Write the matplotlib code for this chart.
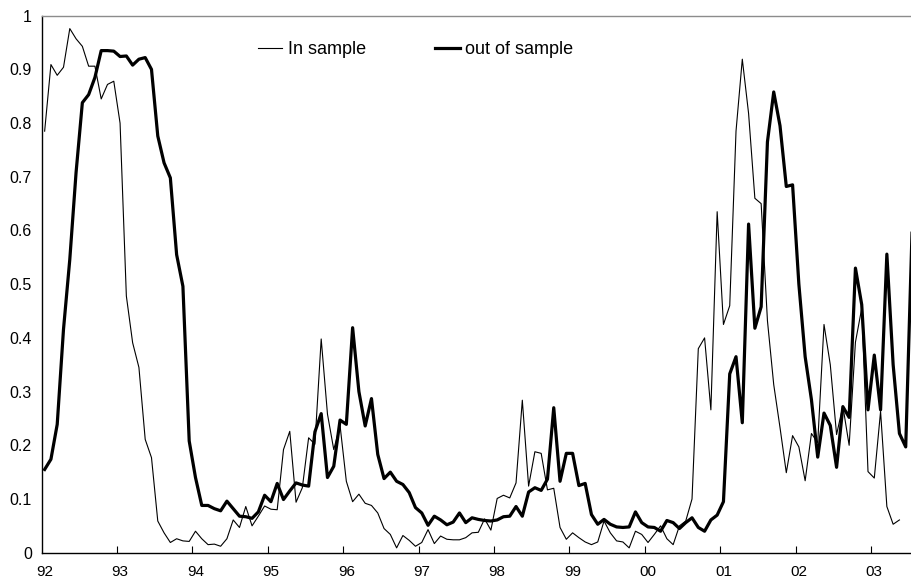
import numpy as np
import matplotlib
matplotlib.use("Agg")
import matplotlib.pyplot as plt

plt.rcParams['font.family'] = ['Liberation Sans', 'DejaVu Sans']

# 月度数据, 从 92 年 1 月开始
in_sample = [
    0.785, 0.909, 0.889, 0.904, 0.976, 0.957, 0.943, 0.906, 0.906, 0.845, 0.872, 0.878,
    0.800, 0.478, 0.391, 0.345, 0.211, 0.177, 0.059, 0.037, 0.019, 0.026, 0.022, 0.021,
    0.040, 0.026, 0.015, 0.016, 0.012, 0.026, 0.061, 0.047, 0.086, 0.050, 0.068, 0.087,
    0.081, 0.080, 0.192, 0.226, 0.094, 0.121, 0.214, 0.202, 0.398, 0.258, 0.192, 0.237,
    0.133, 0.095, 0.109, 0.092, 0.088, 0.074, 0.045, 0.034, 0.009, 0.032, 0.023, 0.012,
    0.019, 0.043, 0.017, 0.031, 0.025, 0.024, 0.024, 0.028, 0.037, 0.038, 0.063, 0.042,
    0.101, 0.107, 0.102, 0.130, 0.284, 0.124, 0.188, 0.185, 0.117, 0.120, 0.047, 0.025,
    0.037, 0.028, 0.020, 0.015, 0.020, 0.059, 0.037, 0.022, 0.020, 0.009, 0.040, 0.034,
    0.019, 0.034, 0.050, 0.026, 0.015, 0.050, 0.059, 0.100, 0.380, 0.400, 0.266, 0.635,
    0.425, 0.460, 0.785, 0.919, 0.818, 0.660, 0.650, 0.432, 0.313, 0.233, 0.149, 0.218,
    0.197, 0.134, 0.222, 0.205, 0.425, 0.350, 0.220, 0.273, 0.200, 0.392, 0.455, 0.151,
    0.139, 0.263, 0.086, 0.053, 0.061,
]

out_of_sample = [
    0.155, 0.174, 0.239, 0.416, 0.546, 0.708, 0.838, 0.853, 0.885, 0.935, 0.935, 0.934,
    0.924, 0.925, 0.908, 0.919, 0.922, 0.900, 0.776, 0.726, 0.698, 0.555, 0.496, 0.208,
    0.140, 0.088, 0.088, 0.082, 0.078, 0.096, 0.082, 0.068, 0.067, 0.064, 0.076, 0.107,
    0.095, 0.129, 0.099, 0.115, 0.130, 0.126, 0.124, 0.225, 0.259, 0.140, 0.161, 0.247,
    0.239, 0.419, 0.300, 0.236, 0.287, 0.183, 0.138, 0.150, 0.133, 0.127, 0.112, 0.084,
    0.074, 0.051, 0.068, 0.061, 0.052, 0.057, 0.074, 0.056, 0.065, 0.062, 0.060, 0.059,
    0.061, 0.067, 0.068, 0.086, 0.068, 0.113, 0.121, 0.116, 0.137, 0.270, 0.133, 0.185,
    0.185, 0.125, 0.129, 0.071, 0.053, 0.062, 0.053, 0.048, 0.047, 0.048, 0.076, 0.056,
    0.048, 0.047, 0.040, 0.060, 0.056, 0.045, 0.056, 0.065, 0.047, 0.040, 0.061, 0.070,
    0.095, 0.333, 0.365, 0.242, 0.612, 0.418, 0.458, 0.765, 0.858, 0.795, 0.682, 0.685,
    0.500, 0.365, 0.285, 0.178, 0.260, 0.237, 0.159, 0.272, 0.252, 0.530, 0.462, 0.266,
    0.368, 0.266, 0.556, 0.350, 0.222, 0.197, 0.595,
]

year_labels = ["92", "93", "94", "95", "96", "97", "98", "99", "00", "01", "02", "03"]
y_ticks = [0, 0.1, 0.2, 0.3, 0.4, 0.5, 0.6, 0.7, 0.8, 0.9, 1]

fig = plt.figure(figsize=(9.12, 5.81), dpi=100)
ax = fig.add_axes([41.5 / 912, 28.3 / 581, (912 - 41.5) / 912, 537 / 581])

ax.plot(np.arange(len(in_sample)), in_sample, color='black', linewidth=0.8, label="In sample")
ax.plot(np.arange(len(out_of_sample)), out_of_sample, color='black', linewidth=2.3, label="out of sample")

ax.set_xlim(-0.5, 138.0)
ax.set_ylim(0, 1)

# x 轴: 年份标签在 1 月处, 刻度线在年份分界处
ax.set_xticks([12 * k for k in range(len(year_labels))])
ax.set_xticklabels(year_labels)
ax.set_xticks([12 * k - 0.5 for k in range(1, len(year_labels))], minor=True)
ax.tick_params(axis='x', which='major', length=0, pad=9, labelsize=11)
ax.tick_params(axis='x', which='minor', length=5, direction='in', width=0.8)

ax.set_yticks(y_ticks)
ax.set_yticklabels([f"{v:g}" for v in y_ticks])
ax.tick_params(axis='y', length=0, pad=7, labelsize=11.5)

ax.spines['right'].set_visible(False)
ax.spines['top'].set_color('#8c8c8c')
ax.spines['top'].set_linewidth(1.0)
ax.spines['left'].set_linewidth(1.0)
ax.spines['bottom'].set_linewidth(1.0)

fig.legend(loc='center left', bbox_to_anchor=(258 / 912, 1 - 50 / 581), ncol=2,
           frameon=False, fontsize=13, handlelength=1.35, handletextpad=0.3,
           columnspacing=3.85, borderpad=0, borderaxespad=0)

fig.savefig("out.png", dpi=100)
